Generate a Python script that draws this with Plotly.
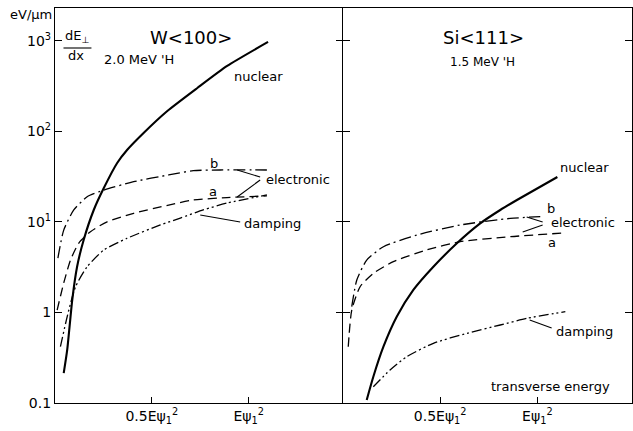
import plotly.graph_objects as go

# ---- data: stopping-power components vs transverse energy (units of E*psi1^2) ----
w_nuclear_x = [0.045, 0.063, 0.089, 0.114, 0.148, 0.200, 0.252, 0.321, 0.372, 0.456, 0.580, 0.735, 0.889, 1.100]
w_nuclear_y = [0.214, 0.385, 1.37, 3.19, 6.3, 13.5, 23.6, 44.6, 62, 95, 167, 300, 525, 966]

w_elec_b_x = [0.015, 0.045, 0.097, 0.166, 0.252, 0.406, 0.587, 0.714, 0.853, 1.094]
w_elec_b_y = [3.98, 8.1, 13.5, 18.9, 22.4, 27.7, 32.9, 36.7, 37.3, 37.3]

w_elec_a_x = [0.011, 0.045, 0.080, 0.123, 0.183, 0.269, 0.406, 0.587, 0.714, 0.888, 1.094]
w_elec_a_y = [1.06, 2.11, 3.78, 5.83, 7.78, 10.0, 12.4, 15.3, 17.4, 18.5, 19.3]

w_damp_x = [0.028, 0.063, 0.106, 0.166, 0.252, 0.372, 0.544, 0.647, 0.765, 0.888, 1.094]
w_damp_y = [0.418, 0.90, 1.92, 3.19, 4.88, 6.58, 9.23, 11.0, 13.5, 16.1, 19.8]

si_nuclear_x = [0.122, 0.156, 0.208, 0.277, 0.362, 0.465, 0.586, 0.706, 0.809, 0.895, 1.103]
si_nuclear_y = [0.108, 0.195, 0.418, 0.90, 1.77, 3.19, 5.79, 9.6, 13.5, 17.4, 31.2]

si_elec_b_x = [0.045, 0.071, 0.122, 0.208, 0.380, 0.603, 0.861, 1.015]
si_elec_b_y = [1.16, 2.28, 3.78, 5.31, 7.15, 9.22, 10.9, 11.4]

si_elec_a_x = [0.027, 0.045, 0.088, 0.156, 0.259, 0.431, 0.603, 0.861, 1.134]
si_elec_a_y = [0.418, 1.06, 1.92, 2.70, 3.63, 4.89, 6.03, 6.85, 7.52]

si_damp_x = [0.156, 0.242, 0.328, 0.465, 0.638, 0.809, 0.947, 1.144]
si_damp_y = [0.151, 0.231, 0.324, 0.456, 0.588, 0.726, 0.861, 1.02]

y_tick_vals = [0.1, 1, 10, 100, 1000]
y_tick_text = ["0.1", "1", "10<sup>1</sup>", "10<sup>2</sup>", "10<sup>3</sup>"]
x_tick_vals = [0.5, 1.0]
x_tick_text = ["0.5Eψ<sub>1</sub><sup>2</sup>", "Eψ<sub>1</sub><sup>2</sup>"]

# ---- styles ----
FONT = "DejaVu Sans"
INK = "black"
SOLID = dict(color=INK, width=2.1, dash="solid")
DASH_A = dict(color=INK, width=1.3, dash="9px,5px")
DASH_B = dict(color=INK, width=1.3, dash="12px,4px,2px,4px")
DASH_D = dict(color=INK, width=1.3, dash="10px,3px,2px,3px,2px,3px")

# figure geometry (pixels)
W, H = 633, 431
L, R, T, B = 54.5, 0.5, 8, 28
PW = W - L - R
PH = H - T - B
XMAX = 1.487
Y_RANGE = [-1, -1 + PH / 90.6]


def px(x):
    return (x - L) / PW


def py(y):
    return (H - B - y) / PH


fig = go.Figure()


def add(xs, ys, line, xa, ya):
    fig.add_trace(go.Scatter(x=xs, y=ys, mode="lines",
                             line=dict(shape="spline", smoothing=0.6, **line),
                             xaxis=xa, yaxis=ya, showlegend=False, hoverinfo="skip"))


add(w_nuclear_x, w_nuclear_y, SOLID, "x", "y")
add(w_elec_b_x, w_elec_b_y, DASH_B, "x", "y")
add(w_elec_a_x, w_elec_a_y, DASH_A, "x", "y")
add(w_damp_x, w_damp_y, DASH_D, "x", "y")
add(si_nuclear_x, si_nuclear_y, SOLID, "x2", "y2")
add(si_elec_b_x, si_elec_b_y, DASH_B, "x2", "y2")
add(si_elec_a_x, si_elec_a_y, DASH_A, "x2", "y2")
add(si_damp_x, si_damp_y, DASH_D, "x2", "y2")

split = (343 - L) / PW

axis_common = dict(linecolor=INK, linewidth=1.3, showgrid=False, zeroline=False,
                   ticks="inside", tickcolor=INK, tickwidth=1.2)
xaxis_common = dict(axis_common, showline=True, range=[0, XMAX], tickvals=x_tick_vals,
                    ticktext=x_tick_text, ticklen=6, mirror=True,
                    tickfont=dict(family=FONT, size=14, color=INK))
yaxis_common = dict(axis_common, type="log", range=Y_RANGE, tickvals=y_tick_vals, ticklen=7)

fig.update_layout(
    width=W, height=H,
    margin=dict(l=L, r=R, t=T, b=B, pad=0),
    paper_bgcolor="white", plot_bgcolor="white",
    xaxis=dict(xaxis_common, domain=[0, split], anchor="y"),
    xaxis2=dict(xaxis_common, domain=[split, 1], anchor="y2"),
    # left panel: labelled log axis
    yaxis=dict(yaxis_common, showline=True, mirror=False, ticktext=y_tick_text, anchor="x",
               tickfont=dict(family=FONT, size=14, color=INK)),
    # right panel: divider line plus mirrored frame on the right edge
    yaxis2=dict(yaxis_common, showline=True, mirror="ticks", anchor="x2",
                showticklabels=False, matches="y"),
    # ticks of the left panel pointing inward from the divider
    yaxis3=dict(yaxis_common, showline=False, overlaying="y", side="right", anchor="x",
                showticklabels=False, matches="y"),
)
# an invisible trace so the overlay axis is drawn
fig.add_trace(go.Scatter(x=[0.5], y=[1], mode="markers", marker=dict(opacity=0),
                         xaxis="x", yaxis="y3", showlegend=False, hoverinfo="skip"))

# ---- text labels ----
labels = [
    ("eV/μm", 30, 15, 13),
    ("dE<sub>⊥</sub>", 77, 36, 13),
    ("dx", 76, 56, 13),
    ("W<100>", 191, 38, 18),
    ("2.0 MeV 'H", 139, 59, 13),
    ("nuclear", 258, 76, 13),
    ("b", 214, 163, 13),
    ("a", 213, 191, 13),
    ("electronic", 298, 179, 13),
    ("damping", 272, 223, 13),
    ("Si<111>", 484, 38, 18),
    ("1.5 MeV 'H", 483, 62, 12),
    ("nuclear", 585, 167, 13),
    ("b", 551, 208, 13),
    ("electronic", 583, 222, 13),
    ("a", 552, 242, 13),
    ("damping", 585, 331, 13),
    ("transverse energy", 551, 386, 13),
]
for text, x, y, size in labels:
    fig.add_annotation(text=text, x=px(x), y=py(y), xref="paper", yref="paper",
                       showarrow=False, xanchor="center", yanchor="middle",
                       font=dict(family=FONT, size=size, color=INK))

# fraction bar and leader lines
leaders = [
    (63, 48, 91, 48),
    (237, 170, 260, 177), (237, 197, 260, 180), (200, 215, 240, 222),
    (527, 217, 543, 222), (523, 232, 543, 225), (530, 320, 552, 328),
]
for x0, y0, x1, y1 in leaders:
    fig.add_shape(type="line", xref="paper", yref="paper",
                  x0=px(x0), y0=py(y0), x1=px(x1), y1=py(y1),
                  line=dict(color=INK, width=1.1))

fig.write_html("out.html")
